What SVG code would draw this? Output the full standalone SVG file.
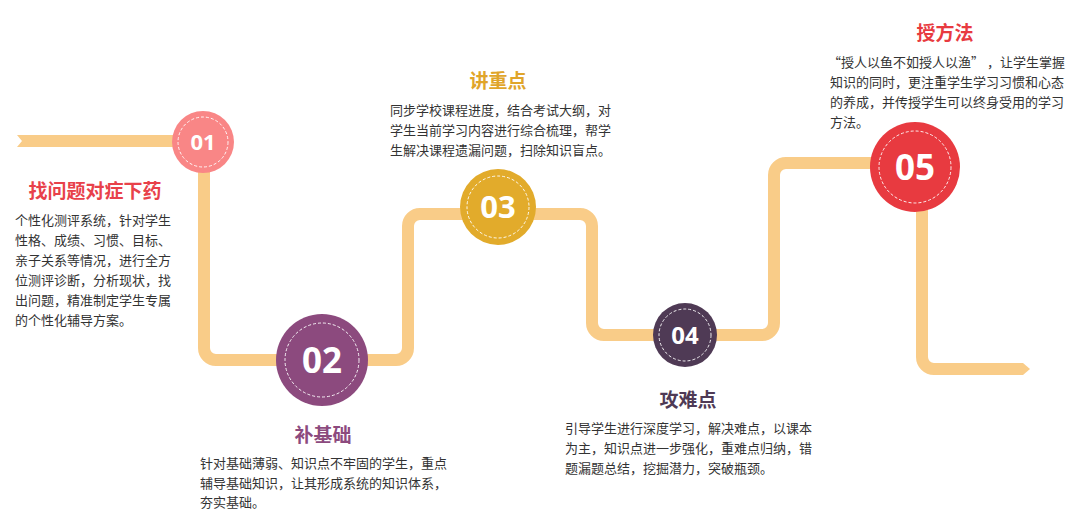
<svg xmlns="http://www.w3.org/2000/svg" width="1078" height="519" viewBox="0 0 1078 519">
<style>
.track{fill:none;stroke:#f9cc88;stroke-width:12;stroke-linejoin:round}
.trackfill{fill:#f9cc88}
.ring{fill:none;stroke:#fff;stroke-width:1;stroke-dasharray:3 2;opacity:0.9}
.num{font-family:"Open Sans","Liberation Sans",sans-serif;font-weight:700;fill:#fff;text-anchor:middle}
.title{font-family:"Noto Sans CJK SC","Noto Sans",sans-serif;font-weight:700;font-size:19px;text-anchor:middle}
.body{font-family:"Noto Sans CJK SC","Noto Sans",sans-serif;font-size:13px;fill:#333}
</style>
<rect width="1078" height="519" fill="#fff"/>
<g id="connectors">
<polygon class="trackfill" points="17,135 30,135 30,147 17,147 22,141"/>
<path class="track" d="M 28 141 H 192 A 12 12 0 0 1 204 153 V 348 A 12 12 0 0 0 216 360 H 396 A 12 12 0 0 0 408 348 V 226 A 12 12 0 0 1 420 214 H 580 A 12 12 0 0 1 592 226 V 323 A 12 12 0 0 0 604 335 H 762 A 12 12 0 0 0 774 323 V 175 A 12 12 0 0 1 786 163 H 910 A 12 12 0 0 1 922 175 V 357 A 12 12 0 0 0 934 369 H 1020"/>
<polygon class="trackfill" points="1018,363 1023,363 1030,369 1023,375 1018,375"/>
</g>
<g id="node1">
<circle cx="203" cy="142" r="31" fill="#f98686"/>
<circle class="ring" cx="203" cy="142" r="25"/>
<text class="num" x="203" y="150" font-size="22">01</text>
<text class="title" x="95" y="198" fill="#e8414a">找问题对症下药</text>
<text class="body"><tspan x="15" y="225">个性化测评系统，针对学生</tspan><tspan x="15" y="245">性格、成绩、习惯、目标、</tspan><tspan x="15" y="265">亲子关系等情况，进行全方</tspan><tspan x="15" y="285">位测评诊断，分析现状，找</tspan><tspan x="15" y="305">出问题，精准制定学生专属</tspan><tspan x="15" y="325">的个性化辅导方案。</tspan></text>
</g>
<g id="node2">
<circle cx="322" cy="360" r="46" fill="#8c4a7e"/>
<circle class="ring" cx="322" cy="360" r="37"/>
<text class="num" x="322" y="372.5" font-size="35">02</text>
<text class="title" x="323" y="442" fill="#8c4a7e">补基础</text>
<text class="body"><tspan x="200" y="468">针对基础薄弱、知识点不牢固的学生，重点</tspan><tspan x="200" y="488">辅导基础知识，让其形成系统的知识体系，</tspan><tspan x="200" y="507">夯实基础。</tspan></text>
</g>
<g id="node3">
<circle cx="498" cy="207" r="38" fill="#e2ab2b"/>
<circle class="ring" cx="498" cy="207" r="31"/>
<text class="num" x="498" y="218" font-size="31">03</text>
<text class="title" x="498" y="88" fill="#e0a52a">讲重点</text>
<text class="body"><tspan x="390" y="115">同步学校课程进度，结合考试大纲，对</tspan><tspan x="390" y="135">学生当前学习内容进行综合梳理，帮学</tspan><tspan x="390" y="155">生解决课程遗漏问题，扫除知识盲点。</tspan></text>
</g>
<g id="node4">
<circle cx="685" cy="335" r="32" fill="#4f3a55"/>
<circle class="ring" cx="685" cy="335" r="26"/>
<text class="num" x="685" y="343.5" font-size="24">04</text>
<text class="title" x="688" y="407" fill="#4f3a55">攻难点</text>
<text class="body"><tspan x="565" y="433">引导学生进行深度学习，解决难点，以课本</tspan><tspan x="565" y="453">为主，知识点进一步强化，重难点归纳，错</tspan><tspan x="565" y="473">题漏题总结，挖掘潜力，突破瓶颈。</tspan></text>
</g>
<g id="node5">
<circle cx="915" cy="167" r="45" fill="#e83a40"/>
<circle class="ring" cx="915" cy="167" r="36"/>
<text class="num" x="915" y="179.5" font-size="35">05</text>
<text class="title" x="945" y="40" fill="#e83a40">授方法</text>
<text class="body" xml:space="preserve"><tspan x="828" y="67">“授人以鱼不如授人以渔” ，让学生掌握</tspan><tspan x="830" y="87">知识的同时，更注重学生学习习惯和心态</tspan><tspan x="830" y="107">的养成，并传授学生可以终身受用的学习</tspan><tspan x="830" y="127">方法。</tspan></text>
</g>
</svg>
